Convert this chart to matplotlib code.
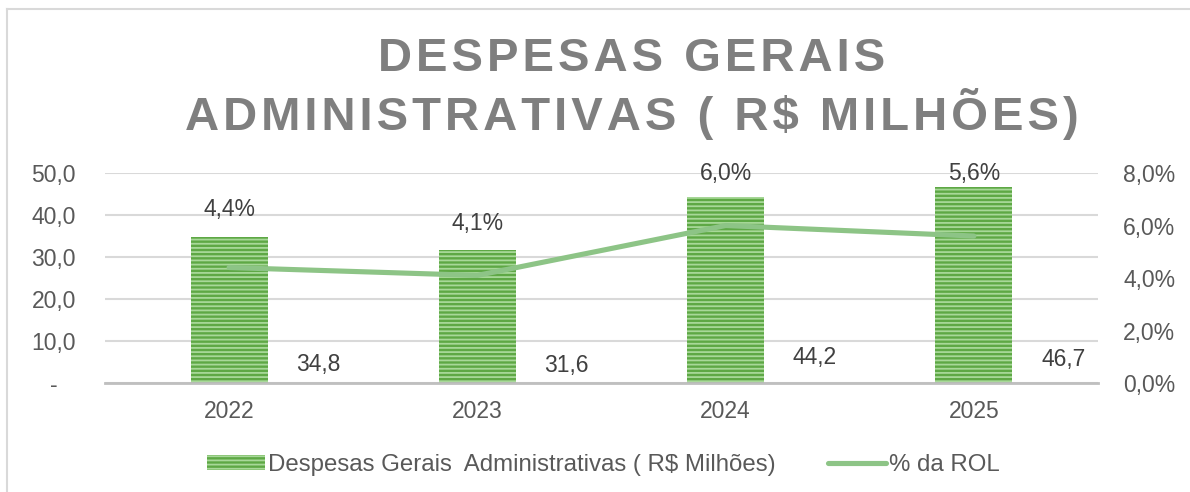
import numpy as np
import matplotlib
matplotlib.use('Agg')
import matplotlib.pyplot as plt
from matplotlib.lines import Line2D
from matplotlib.ticker import FuncFormatter

plt.rcParams['font.family'] = ['Liberation Sans', 'DejaVu Sans']
plt.rcParams['hatch.linewidth'] = 1.3

# data
anos = ['2022', '2023', '2024', '2025']
despesas = [34.8, 31.6, 44.2, 46.7]
pct_rol = [4.4, 4.1, 6.0, 5.6]
titulo = 'DESPESAS GERAIS\nADMINISTRATIVAS ( R$ MILHÕES)'
leg_barras = 'Despesas Gerais  Administrativas ( R$ Milhões)'
leg_linha = '% da ROL'

cor_barra = '#5ea845'
cor_listra = '#a8d899'
cor_linha = '#8dc486'
cinza_txt = '#595959'
fs = 16.5

fig = plt.figure(figsize=(11.9, 4.92), dpi=100)
ax = fig.add_axes([0.0882, 0.2215, 0.8345, 0.4268])
ax2 = ax.twinx()

x = np.arange(len(anos))
bars = ax.bar(x, despesas, width=0.31, color=cor_barra, edgecolor=cor_listra,
              hatch='----', linewidth=0, zorder=2)
ax.set_xlim(-0.5, len(anos) - 0.5)
ax.set_ylim(0, 50)
ax.set_yticks(np.arange(0, 51, 10))
ax.yaxis.set_major_formatter(FuncFormatter(
    lambda v, p: '-' if v == 0 else f'{v:.1f}'.replace('.', ',')))
ax.set_xticks(x)
ax.set_xticklabels(anos)
ax.grid(axis='y', color='#d9d9d9', linewidth=1.5, zorder=0)
ax.set_axisbelow(True)

ax2.plot(x, pct_rol, color=cor_linha, linewidth=3.7, solid_capstyle='round', zorder=3)
ax2.set_ylim(0, 8)
ax2.set_yticks(np.arange(0, 8.1, 2))
ax2.yaxis.set_major_formatter(FuncFormatter(lambda v, p: f'{v:.1f}%'.replace('.', ',')))

for a in (ax, ax2):
    for s in a.spines.values():
        s.set_visible(False)
    a.tick_params(length=0, labelsize=fs, labelcolor=cinza_txt)
ax.spines['bottom'].set_visible(True)
ax.spines['bottom'].set_color('#bfbfbf')
ax.spines['bottom'].set_linewidth(2)
ax.tick_params(axis='x', pad=12)
ax.tick_params(axis='y', pad=37)
ax2.tick_params(axis='y', pad=18)
for lbl in ax.get_yticklabels():
    lbl.set_horizontalalignment('center')

# rótulos: percentual acima das barras, valor ao lado
for xi, v, p in zip(x, despesas, pct_rol):
    ax.text(xi, min(v + 6.5, 50), f'{p:.1f}%'.replace('.', ','), ha='center',
            va='center', fontsize=fs, color='#404040')
    ax.text(xi + 0.36, p, f'{v:.1f}'.replace('.', ','), ha='center',
            va='center', fontsize=fs, color='#404040')

# titulo com espaçamento entre letras
titulo_esp = '\n'.join('\u200a'.join(linha) for linha in titulo.split('\n'))
fig.text(0.531, 0.82, titulo_esp, ha='center', va='center', fontsize=34,
         fontweight='bold', color='#7f7f7f', linespacing=1.15)

# legenda
h1 = plt.Rectangle((0, 0), 1, 1, facecolor=cor_barra, edgecolor=cor_listra,
                   hatch='----', linewidth=0)
h2 = Line2D([0], [0], color=cor_linha, linewidth=3.7, solid_capstyle='round')
fig.legend([h1, h2], [leg_barras, leg_linha], loc='center', ncol=2,
           bbox_to_anchor=(0.507, 0.055), frameon=False, fontsize=17.3,
           labelcolor=cinza_txt, handlelength=2.4, handleheight=0.6,
           handletextpad=0.12, columnspacing=2.2)

# moldura
fig.add_artist(Line2D([7 / 1190, 1], [1 - 9 / 492] * 2, color='#d9d9d9', linewidth=1.5))
fig.add_artist(Line2D([7 / 1190] * 2, [0, 1 - 9 / 492], color='#d9d9d9', linewidth=1.5))

fig.savefig('out.png', dpi=100)
